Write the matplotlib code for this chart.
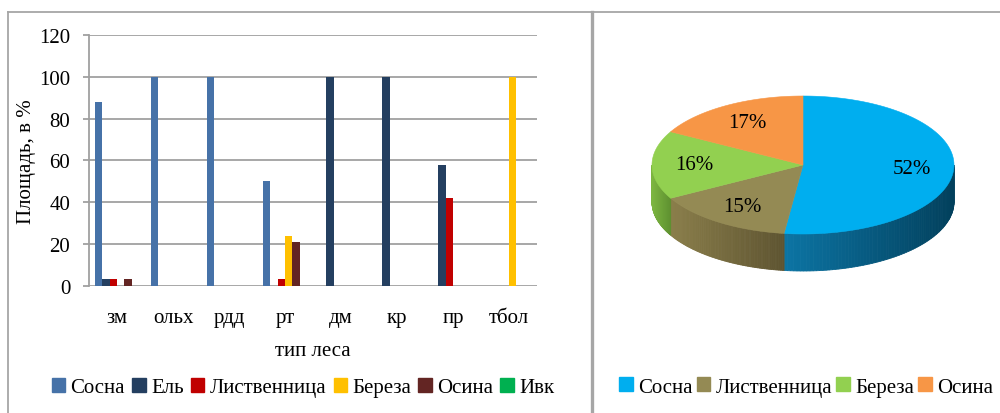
import matplotlib.pyplot as plt
import numpy as np
from matplotlib.patches import Polygon, Patch
from matplotlib.lines import Line2D
from matplotlib.colors import to_rgb

plt.rcParams['font.family'] = ['Liberation Serif', 'DejaVu Serif']
plt.rcParams['font.size'] = 15

# share of each species by forest type, %
forest_types = ['зм', 'ольх', 'рдд', 'рт', 'дм', 'кр', 'пр', 'тбол']
species = ['Сосна', 'Ель', 'Лиственница', 'Береза', 'Осина', 'Ивк']
sosna = [88, 100, 100, 50, 0, 0, 0, 0]
el = [3.5, 0, 0, 0, 100, 100, 58, 0]
listv = [3.5, 0, 0, 3.5, 0, 0, 42, 0]
bereza = [0, 0, 0, 24, 0, 0, 0, 100]
osina = [3.5, 0, 0, 21, 0, 0, 0, 0]
ivk = [0, 0, 0, 0, 0, 0, 0, 0]
bar_colors = ['#4672A8', '#243F60', '#C00000', '#FFC000', '#632523', '#00B050']

# overall species composition
pie_labels = ['Сосна', 'Лиственница', 'Береза', 'Осина']
pie_shares = [52, 15, 16, 17]
pie_top = ['#00AEEF', '#948A54', '#92D050', '#F79646']
pie_side = [('#0C74A4', '#02405C'), ('#8A7E4A', '#5E5431'),
            ('#7CB540', '#5E9030'), ('#D9793A', '#B05A20')]

grid_c = '#A0A0A0'
border_c = '#A6A6A6'

fig = plt.figure(figsize=(10, 4.14), dpi=100)

# ---- bar chart ----
ax = fig.add_axes([0.089, 0.3068, 0.448, 0.6063])
series = [sosna, el, listv, bereza, osina, ivk]
x = np.arange(len(forest_types))
w = 0.13
for i, vals in enumerate(series):
    ax.bar(x + (i - 2.5) * w, vals, width=w, color=bar_colors[i], zorder=3)

ax.set_xlim(-0.5, len(forest_types) - 0.5)
ax.set_ylim(0, 120)
ax.set_yticks(range(0, 121, 20))
ax.set_xticks(x)
ax.set_xticklabels(forest_types)
ax.yaxis.grid(True, color=grid_c, lw=1.3, zorder=0)
ax.set_axisbelow(True)
for s in ['top', 'right', 'bottom']:
    ax.spines[s].set_visible(False)
ax.spines['left'].set_color(grid_c)
ax.spines['left'].set_linewidth(1.3)
ax.tick_params(axis='y', color=grid_c, width=1.3, length=4.5, pad=9)
ax.tick_params(axis='x', length=0, pad=16)
ax.set_ylabel('Площадь, в %', labelpad=2)
ax.set_xlabel('тип леса', labelpad=10)

bar_handles = [Patch(color=c) for c in bar_colors]
fig.legend(bar_handles, species, loc='center', bbox_to_anchor=(0.303, 0.061),
           ncol=6, frameon=False, handlelength=0.65, handleheight=0.65,
           handletextpad=0.25, columnspacing=0.35, borderpad=0)

# ---- 3D-looking pie ----
pax = fig.add_axes([0.59, 0, 0.41, 1])
pax.set_xlim(590, 1000)
pax.set_ylim(414, 0)
pax.axis('off')

cx, cy, ra, rb, depth = 803, 166, 151, 69, 37


def rim(theta):
    t = np.radians(theta)
    return cx + ra * np.sin(t), cy - rb * np.cos(t)


bounds = np.concatenate([[0], np.cumsum(pie_shares) / sum(pie_shares) * 360])
for k in range(len(pie_shares)):
    a0, a1 = bounds[k], bounds[k + 1]
    # visible side wall (front half of the disc)
    s0, s1 = max(a0, 90), min(a1, 270)
    if s1 > s0:
        th = np.linspace(s0, s1, 80)
        xs, ys = rim(th)
        c_l, c_r = np.array(to_rgb(pie_side[k][0])), np.array(to_rgb(pie_side[k][1]))
        xmin, xmax = xs.min(), xs.max()
        for j in range(len(th) - 1):
            f = ((xs[j] + xs[j + 1]) / 2 - xmin) / max(xmax - xmin, 1)
            col = c_l * (1 - f) + c_r * f
            quad = [(xs[j], ys[j]), (xs[j + 1], ys[j + 1]),
                    (xs[j + 1], ys[j + 1] + depth), (xs[j], ys[j] + depth)]
            pax.add_patch(Polygon(quad, closed=True, fc=col, ec=col, lw=0.6, zorder=1))
    # top face
    th = np.linspace(a0, a1, 120)
    xs, ys = rim(th)
    pts = [(cx, cy)] + list(zip(xs, ys))
    pax.add_patch(Polygon(pts, closed=True, fc=pie_top[k], ec=pie_top[k], lw=0.4, zorder=2))
    # percentage label
    mid = np.radians((a0 + a1) / 2)
    lx = cx + 0.72 * ra * np.sin(mid)
    ly = cy - 0.72 * rb * np.cos(mid)
    pax.text(lx, ly, f'{pie_shares[k]}%', ha='center', va='center', zorder=3)

pie_handles = [Patch(color=c) for c in pie_top]
fig.legend(pie_handles, pie_labels, loc='center', bbox_to_anchor=(0.806, 0.063),
           ncol=4, frameon=False, handlelength=0.65, handleheight=0.65,
           handletextpad=0.25, columnspacing=0.2, borderpad=0)

# ---- panel borders ----
top_y = 1 - 13 / 414
fig.add_artist(Line2D([0.008, 0.008], [0, top_y], color=border_c, lw=1.3))
fig.add_artist(Line2D([0.008, 1.0], [top_y, top_y], color=border_c, lw=1.3))
fig.add_artist(Line2D([0.5915, 0.5915], [0, top_y], color=border_c, lw=2.4))

fig.savefig('out.png', dpi=100)
